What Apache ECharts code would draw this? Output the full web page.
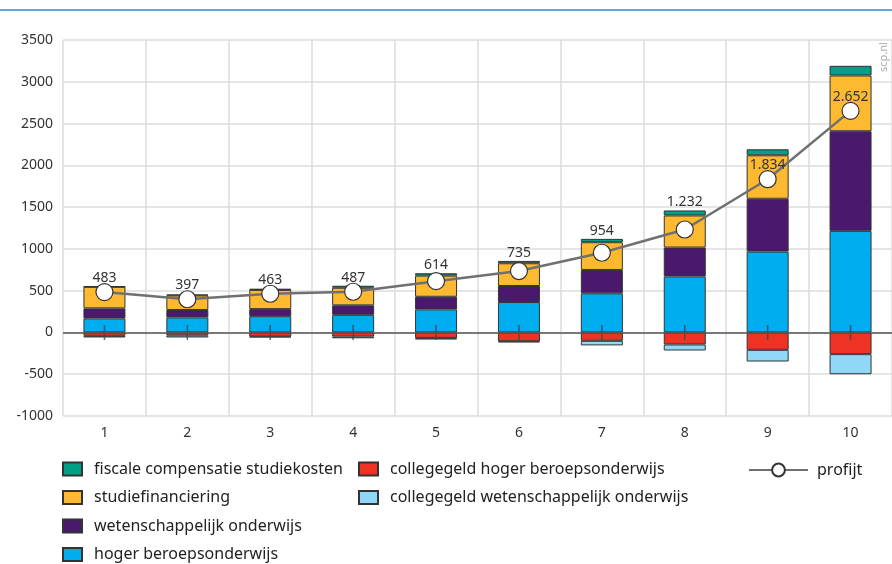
<!DOCTYPE html>
<html>
<head>
<meta charset="utf-8">
<script src="https://cdn.jsdelivr.net/npm/echarts@6/dist/echarts.min.js"></script>
<style>
    html, body { margin: 0; padding: 0; background: #fff; }
    #chart { width: 892px; height: 564px; }
</style>
</head>
<body>
<div id="chart"></div>
<script>
// categories along the x axis
const categories = ['1', '2', '3', '4', '5', '6', '7', '8', '9', '10'];

// positive parts of the stack (bottom to top)
const hogerBeroeps = [168, 180, 195, 211, 276, 364, 468, 670, 968, 1216];
const wetenschappelijk = [120, 88, 84, 113, 151, 192, 280, 346, 632, 1192];
const studiefinanciering = [258, 175, 230, 211, 253, 272, 332, 384, 520, 667];
const fiscaleCompensatie = [5, 10, 14, 24, 28, 28, 40, 60, 72, 116];

// negative parts (near zero first)
const collegegeldHbo = [-40, -35, -50, -50, -65, -105, -100, -144, -208, -260];
const collegegeldWo = [-20, -25, -8, -20, -20, -15, -55, -72, -140, -240];

// line
const profijt = [483, 397, 463, 487, 614, 735, 954, 1232, 1834, 2652];

const yTicks = { min: -1000, max: 3500, interval: 500 };

const FONT = 'Noto Sans';
const outline = '#333';

function nlFormat(v) {
    let s = String(Math.round(v));
    return s.replace(/\B(?=(\d{3})+(?!\d))/g, '.');
}

function barSeries(name, data, color) {
    return {
        name,
        type: 'bar',
        stack: 'total',
        data,
        barWidth: 42,
        itemStyle: { color, borderColor: outline, borderWidth: 1 },
        emphasis: { disabled: true }
    };
}

let chart = echarts.init(document.getElementById('chart'));

let series = [
    barSeries('hoger beroepsonderwijs', hogerBeroeps, '#00aeef'),
    barSeries('wetenschappelijk onderwijs', wetenschappelijk, '#4a186c'),
    barSeries('studiefinanciering', studiefinanciering, '#fdba30'),
    barSeries('fiscale compensatie studiekosten', fiscaleCompensatie, '#00a086'),
    barSeries('collegegeld hoger beroepsonderwijs', collegegeldHbo, '#ee3325'),
    barSeries('collegegeld wetenschappelijk onderwijs', collegegeldWo, '#8fd8f8')
];

// dark zero line
series[0].markLine = {
    silent: true,
    symbol: 'none',
    label: { show: false },
    lineStyle: { color: '#555', width: 1.5, type: 'solid' },
    data: [{ yAxis: 0 }]
};

// small vertical marks crossing the zero line at each category
series.push({
    name: 'ticks',
    type: 'scatter',
    data: categories.map(c => [c, 0]),
    symbol: 'rect',
    symbolSize: [1.5, 15],
    itemStyle: { color: '#444' },
    silent: true,
    z: 4
});

series.push({
    name: 'profijt',
    type: 'line',
    data: profijt,
    symbol: 'circle',
    symbolSize: 17,
    lineStyle: { color: '#707070', width: 2.5 },
    itemStyle: { color: '#fff', borderColor: '#333', borderWidth: 1.2 },
    label: {
        show: true,
        position: 'top',
        distance: -2,
        fontFamily: FONT,
        fontSize: 14,
        color: '#333',
        formatter: p => nlFormat(p.value)
    },
    z: 5
});

let legendText = { fontFamily: FONT, fontSize: 16, color: '#222', lineHeight: 18, padding: [0, 0, 0, 7] };

let colLegend = {
    orient: 'vertical',
    top: 460,
    height: 110,
    padding: 0,
    icon: 'rect',
    itemWidth: 19,
    itemHeight: 13,
    itemGap: 10.5,
    textStyle: legendText
};

chart.setOption({
    animation: false,
    textStyle: { fontFamily: FONT },
    grid: { left: 63, right: -5, top: 40, bottom: 148 },
    xAxis: {
        type: 'category',
        data: categories,
        axisLine: { show: false },
        axisTick: { show: false },
        axisLabel: { fontFamily: FONT, fontSize: 14, color: '#333', margin: 10 },
        splitLine: { show: true, lineStyle: { color: '#dcdcdc', width: 1.5 } }
    },
    yAxis: {
        type: 'value',
        min: yTicks.min,
        max: yTicks.max,
        interval: yTicks.interval,
        axisLine: { show: false },
        axisTick: { show: false },
        axisLabel: {
            fontFamily: FONT, fontSize: 14, color: '#333', margin: 10,
            formatter: v => String(v)
        },
        splitLine: { lineStyle: { color: '#dcdcdc', width: 1.5 } }
    },
    legend: [
        Object.assign({}, colLegend, {
            left: 62,
            data: ['fiscale compensatie studiekosten', 'studiefinanciering',
                'wetenschappelijk onderwijs', 'hoger beroepsonderwijs']
        }),
        Object.assign({}, colLegend, {
            left: 358,
            data: ['collegegeld hoger beroepsonderwijs', 'collegegeld wetenschappelijk onderwijs']
        }),
        {
            left: 748,
            top: 461,
            padding: 0,
            itemWidth: 59,
            itemHeight: 16,
            textStyle: Object.assign({}, legendText, { padding: [0, 0, 0, 4] }),
            data: ['profijt']
        }
    ],
    graphic: [
        {
            type: 'rect',
            left: 0,
            top: 9,
            shape: { width: 892, height: 2 },
            style: { fill: '#5aaadc' }
        },
        {
            type: 'text',
            x: 884,
            y: 72,
            rotation: Math.PI / 2,
            style: {
                text: 'scp.nl',
                fill: '#aaa',
                fontFamily: FONT,
                fontSize: 11,
                align: 'left',
                verticalAlign: 'middle'
            }
        }
    ],
    series
});

// lift the profit labels above the bar top when the bar top is close to the point
let y0 = chart.convertToPixel({ yAxisIndex: 0 }, 0);
let y1000 = chart.convertToPixel({ yAxisIndex: 0 }, 1000);
let pxPerUnit = (y0 - y1000) / 1000;
let labelled = profijt.map((v, i) => {
    let top = hogerBeroeps[i] + wetenschappelijk[i] + studiefinanciering[i] + fiscaleCompensatie[i];
    let gap = (top - v) * pxPerUnit;
    let dist = gap < 25 ? Math.max(gap - 8, -2) : -2;
    return { value: v, label: { distance: dist } };
});
chart.setOption({ series: [{ name: 'profijt', data: labelled }] });
</script>
</body>
</html>
